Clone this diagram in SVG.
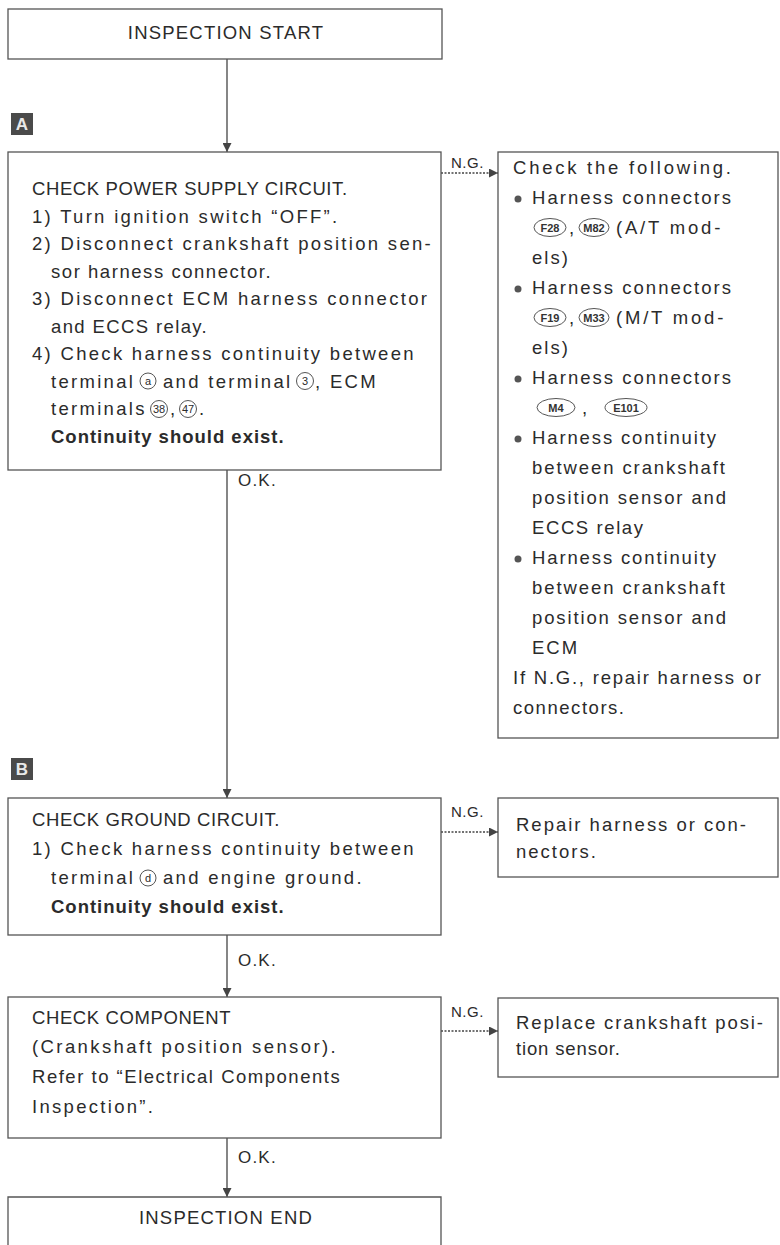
<svg xmlns="http://www.w3.org/2000/svg" width="780" height="1245" viewBox="0 0 780 1245">
<style>
.t{font-family:"Liberation Sans",Arial,sans-serif;font-size:18.5px;fill:#2b2b2b;letter-spacing:2.3px}
.r{letter-spacing:2px}
.m{letter-spacing:2.8px}
.u{letter-spacing:0.6px}
.w{letter-spacing:1.2px}
.b{font-weight:bold;letter-spacing:1px}
.lbl{font-family:"Liberation Sans",Arial,sans-serif;font-size:15px;fill:#2b2b2b;letter-spacing:0.5px}
.ok{font-family:"Liberation Sans",Arial,sans-serif;font-size:17px;fill:#2b2b2b;letter-spacing:1.2px}
.box{fill:#fff;stroke:#555;stroke-width:1.3}
.open{fill:none;stroke:#555;stroke-width:1.3}
.c{fill:#fff;stroke:#555;stroke-width:1}
.ct{font-family:"Liberation Sans",Arial,sans-serif;font-size:11px;fill:#2b2b2b;text-anchor:middle}
.ot{font-family:"Liberation Sans",Arial,sans-serif;font-size:11px;font-weight:bold;fill:#333;text-anchor:middle}
.bul{fill:#555}
.ln{stroke:#444;stroke-width:1.3;fill:none}
.dl{stroke-dasharray:2 1.5}
.badge{fill:#4a4a4a}
.bt{font-family:"Liberation Sans",Arial,sans-serif;font-size:17px;font-weight:bold;fill:#e8e8e8;text-anchor:middle}
</style>
<defs>
<marker id="ah" viewBox="0 0 10 10" refX="10" refY="5" markerWidth="9" markerHeight="9" markerUnits="userSpaceOnUse" orient="auto">
<path d="M0,0 L10,5 L0,10 z" fill="#444"/>
</marker>
</defs>
<rect width="780" height="1245" fill="#fff"/>

<g id="connectors">
<line class="ln" x1="227" y1="59" x2="227" y2="152" marker-end="url(#ah)"/>
<line class="ln" x1="227" y1="470" x2="227" y2="798" marker-end="url(#ah)"/>
<line class="ln" x1="227" y1="935" x2="227" y2="997" marker-end="url(#ah)"/>
<line class="ln" x1="227" y1="1138" x2="227" y2="1197" marker-end="url(#ah)"/>
<line class="ln dl" x1="441" y1="173" x2="498" y2="173" marker-end="url(#ah)"/>
<line class="ln dl" x1="441" y1="832" x2="498" y2="832" marker-end="url(#ah)"/>
<line class="ln dl" x1="441" y1="1031" x2="498" y2="1031" marker-end="url(#ah)"/>
<text class="lbl" x="451" y="168">N.G.</text>
<text class="lbl" x="451" y="817">N.G.</text>
<text class="lbl" x="451" y="1017">N.G.</text>
<text class="ok" x="238" y="486">O.K.</text>
<text class="ok" x="238" y="966">O.K.</text>
<text class="ok" x="238" y="1163">O.K.</text>
</g>

<g id="start">
<rect class="box" x="8" y="9" width="434" height="50"/>
<text class="t w" x="226" y="39" text-anchor="middle">INSPECTION START</text>
</g>

<g id="badgeA">
<rect class="badge" x="11" y="113" width="22" height="22"/>
<text class="bt" x="22" y="130">A</text>
</g>

<g id="checkPower">
<rect class="box" x="8" y="152" width="433" height="318"/>
<text class="t u" x="32" y="195">CHECK POWER SUPPLY CIRCUIT.</text>
<text class="t" x="32" y="222.5">1) Turn ignition switch “OFF”.</text>
<text class="t" x="32" y="250">2) Disconnect crankshaft position sen-</text>
<text class="t" x="51" y="277.5" textLength="222" lengthAdjust="spacing">sor harness connector.</text>
<text class="t" x="32" y="305">3) Disconnect ECM harness connector</text>
<text class="t" x="51" y="332.5" textLength="158" lengthAdjust="spacing">and ECCS relay.</text>
<text class="t" x="32" y="360">4) Check harness continuity between</text>
<text class="t" x="51" y="387.5">terminal</text>
<circle class="c" cx="148" cy="381" r="8"/>
<text class="ct" x="148" y="385">a</text>
<text class="t" x="163" y="387.5">and terminal</text>
<circle class="c" cx="305" cy="381" r="8.5"/>
<text class="ct" x="305" y="385">3</text>
<text class="t" x="315" y="387.5">, ECM</text>
<text class="t" x="51" y="415">terminals</text>
<circle class="c" cx="159" cy="409" r="8.5"/>
<text class="ct" x="159" y="413">38</text>
<text class="t" x="170" y="415">,</text>
<circle class="c" cx="188" cy="409" r="8.5"/>
<text class="ct" x="188" y="413">47</text>
<text class="t" x="199" y="415">.</text>
<text class="t b" x="51" y="442.5">Continuity should exist.</text>
</g>

<g id="checkFollowing">
<rect class="box" x="498" y="152" width="280" height="586"/>
<text class="t r" x="513" y="174" textLength="220" lengthAdjust="spacing">Check the following.</text>
<circle class="bul" cx="518" cy="199" r="3.5"/>
<text class="t r" x="532" y="204" textLength="201" lengthAdjust="spacing">Harness connectors</text>
<ellipse class="c" cx="550" cy="227.5" rx="16" ry="9"/>
<text class="ot" x="550" y="231.5">F28</text>
<text class="t r" x="569" y="234">,</text>
<ellipse class="c" cx="594" cy="227.5" rx="15" ry="9"/>
<text class="ot" x="594" y="231.5">M82</text>
<text class="t m" x="616" y="234">(A/T mod-</text>
<text class="t r" x="532" y="264">els)</text>
<circle class="bul" cx="518" cy="289" r="3.5"/>
<text class="t r" x="532" y="294" textLength="201" lengthAdjust="spacing">Harness connectors</text>
<ellipse class="c" cx="550" cy="317.5" rx="16" ry="9"/>
<text class="ot" x="550" y="321.5">F19</text>
<text class="t r" x="569" y="324">,</text>
<ellipse class="c" cx="594" cy="317.5" rx="15" ry="9"/>
<text class="ot" x="594" y="321.5">M33</text>
<text class="t m" x="616" y="324">(M/T mod-</text>
<text class="t r" x="532" y="354">els)</text>
<circle class="bul" cx="518" cy="379" r="3.5"/>
<text class="t r" x="532" y="384" textLength="201" lengthAdjust="spacing">Harness connectors</text>
<ellipse class="c" cx="556" cy="407.5" rx="19" ry="9"/>
<text class="ot" x="556" y="411.5">M4</text>
<text class="t r" x="582" y="414">,</text>
<ellipse class="c" cx="626" cy="407.5" rx="21" ry="9"/>
<text class="ot" x="626" y="411.5">E101</text>
<circle class="bul" cx="518" cy="439" r="3.5"/>
<text class="t r" x="532" y="444" textLength="186" lengthAdjust="spacing">Harness continuity</text>
<text class="t r" x="532" y="474" textLength="195" lengthAdjust="spacing">between crankshaft</text>
<text class="t r" x="532" y="504" textLength="196" lengthAdjust="spacing">position sensor and</text>
<text class="t r" x="532" y="534" textLength="113" lengthAdjust="spacing">ECCS relay</text>
<circle class="bul" cx="518" cy="559" r="3.5"/>
<text class="t r" x="532" y="564" textLength="186" lengthAdjust="spacing">Harness continuity</text>
<text class="t r" x="532" y="594" textLength="195" lengthAdjust="spacing">between crankshaft</text>
<text class="t r" x="532" y="624" textLength="196" lengthAdjust="spacing">position sensor and</text>
<text class="t r" x="532" y="654">ECM</text>
<text class="t r" x="513" y="684" textLength="250" lengthAdjust="spacing">If N.G., repair harness or</text>
<text class="t r" x="513" y="714" textLength="113" lengthAdjust="spacing">connectors.</text>
</g>

<g id="badgeB">
<rect class="badge" x="11" y="758" width="22" height="22"/>
<text class="bt" x="22" y="775">B</text>
</g>

<g id="checkGround">
<rect class="box" x="8" y="798" width="433" height="137"/>
<text class="t u" x="32" y="826">CHECK GROUND CIRCUIT.</text>
<text class="t" x="32" y="855">1) Check harness continuity between</text>
<text class="t" x="51" y="884">terminal</text>
<circle class="c" cx="148" cy="878" r="8"/>
<text class="ct" x="148" y="882">d</text>
<text class="t" x="163" y="884">and engine ground.</text>
<text class="t b" x="51" y="913">Continuity should exist.</text>
</g>

<g id="repairHarness">
<rect class="box" x="498" y="798" width="280" height="79"/>
<text class="t r" x="516" y="831" textLength="232" lengthAdjust="spacing">Repair harness or con-</text>
<text class="t r" x="516" y="858">nectors.</text>
</g>

<g id="checkComponent">
<rect class="box" x="8" y="997" width="433" height="141"/>
<text class="t u" x="32" y="1024">CHECK COMPONENT</text>
<text class="t" x="32" y="1053" textLength="306" lengthAdjust="spacing">(Crankshaft position sensor).</text>
<text class="t" x="32" y="1083" textLength="310" lengthAdjust="spacing">Refer to “Electrical Components</text>
<text class="t" x="32" y="1113">Inspection”.</text>
</g>

<g id="replaceSensor">
<rect class="box" x="498" y="998" width="280" height="79"/>
<text class="t r" x="516" y="1029" textLength="249" lengthAdjust="spacing">Replace crankshaft posi-</text>
<text class="t r" x="516" y="1055" textLength="106" lengthAdjust="spacing">tion sensor.</text>
</g>

<g id="end">
<path class="open" d="M8,1246 V1197 H441 V1246"/>
<text class="t w" x="226" y="1224" text-anchor="middle">INSPECTION END</text>
</g>
</svg>
